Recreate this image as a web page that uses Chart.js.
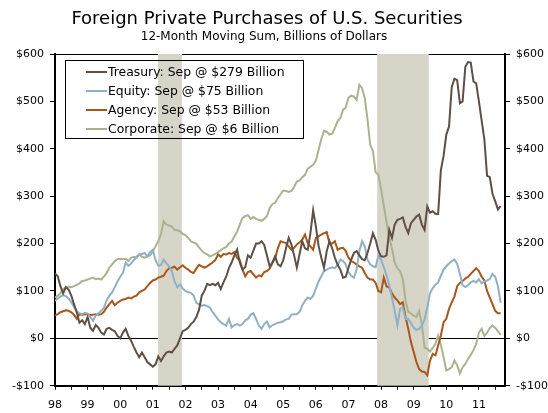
<!DOCTYPE html>
<html>
<head>
<meta charset="utf-8">
<script src="https://cdn.jsdelivr.net/npm/chart.js@4.4.1/dist/chart.umd.min.js"></script>
<style>
  html, body { margin: 0; padding: 0; background: #fff; }
  #wrap { width: 548px; height: 413px; }
</style>
</head>
<body>
<div id="wrap"><canvas id="chart" width="548" height="413"></canvas></div>
<script>
// monthly, Jan 1998 .. Sep 2011
const startYear = 1998;

const treasury = [
  137, 131, 110, 95, 108, 103, 90, 72, 55, 33, 38, 30,
  45, 22, 16, 28, 22, 12, 8, 20, 22, 18, 15, 5,
  0, 12, 20, 5, -5, -18, -30, -40, -30, -40, -50, -55,
  -60, -55, -38, -48, -38, -30, -28, -30, -22, -15, 0, 15,
  18, 22, 30, 35, 45, 60, 90, 100, 115, 112, 115, 112,
  117, 104, 118, 130, 148, 160, 175, 187, 160, 145, 150, 175,
  170, 185, 200, 200, 205, 197, 175, 152, 160, 173, 156, 152,
  165, 190, 212, 198, 175, 149, 178, 205, 190, 187, 222, 270,
  236, 195, 170, 149, 184, 205, 190, 170, 155, 145, 128, 130,
  149, 166, 180, 184, 175, 167, 165, 180, 200, 222, 208, 185,
  173, 172, 175, 229, 212, 240, 250, 252, 255, 235, 222, 243,
  250, 257, 261, 240, 229, 278, 265, 268, 263, 262, 355, 385,
  430, 447, 530, 548, 545, 496, 500, 573, 583, 582, 542, 538,
  500, 460, 420, 343, 340, 305, 289, 272, 279
];

const equity = [
  79, 84, 88, 91, 89, 84, 76, 66, 57, 53, 51, 54,
  52, 45, 37, 48, 53, 58, 64, 80, 90, 97, 108, 120,
  130, 138, 160, 153, 158, 165, 172, 177, 178, 180, 173, 182,
  187, 165, 153, 155, 166, 158, 152, 142, 120, 108, 114, 105,
  100, 97, 96, 90, 75, 72, 69, 70, 68, 65, 55, 48,
  40, 34, 30, 27, 41, 23, 28, 30, 27, 30, 38, 41,
  50, 53, 41, 27, 20, 30, 35, 23, 28, 30, 33, 34,
  36, 40, 41, 50, 51, 51, 56, 70, 79, 86, 83, 90,
  105, 120, 131, 142, 145, 148, 150, 148, 155, 166, 163, 156,
  140, 132, 128, 145, 184, 205, 194, 166, 156, 152, 150, 175,
  166, 150, 133, 112, 86, 58, 27, 62, 65, 41, 41, 32,
  22, 18, 20, 27, 40, 65, 95, 106, 113, 118, 132, 145,
  152, 158, 163, 166, 157, 136, 112, 108, 112, 118, 121, 118,
  125, 116, 120, 122, 125, 136, 130, 110, 75
];

const agency = [
  48, 51, 55, 57, 59, 58, 55, 50, 41, 51, 50, 51,
  51, 49, 50, 51, 50, 51, 56, 65, 72, 79, 70, 75,
  79, 82, 83, 86, 84, 88, 90, 97, 100, 103, 110, 117,
  122, 124, 128, 130, 132, 142, 148, 149, 151, 145, 150, 154,
  149, 145, 140, 138, 147, 155, 152, 149, 152, 156, 160, 165,
  177, 172, 178, 177, 180, 178, 182, 170, 165, 145, 131, 140,
  142, 135, 128, 133, 131, 140, 142, 147, 159, 168, 190, 205,
  203, 201, 194, 187, 191, 198, 202, 208, 219, 201, 194, 187,
  212, 215, 219, 222, 224, 201, 200, 205, 187, 190, 191, 184,
  170, 163, 160, 156, 152, 149, 138, 128, 124, 124, 117, 100,
  97, 128, 110, 107, 95, 86, 80, 72, 76, 45, 20, -8,
  -29, -50, -65, -70, -71, -78, -47, -33, -36, -15, 6, 34,
  41, 62, 76, 88, 110, 117, 121, 126, 130, 136, 142, 148,
  142, 130, 122, 100, 86, 72, 58, 53, 53
];

const corporate = [
  86, 90, 95, 104, 107, 109, 108, 110, 113, 116, 121, 122,
  124, 126, 128, 125, 126, 124, 130, 138, 149, 156, 163, 167,
  168, 167, 168, 163, 170, 172, 170, 177, 172, 170, 173, 175,
  184, 194, 205, 220, 247, 240, 238, 236, 229, 228, 226, 220,
  218, 212, 205, 202, 200, 192, 185, 180, 177, 173, 175, 178,
  182, 186, 190, 193, 200, 204, 215, 225, 240, 254, 258, 260,
  252, 256, 252, 250, 248, 252, 258, 275, 283, 286, 296, 304,
  312, 311, 309, 311, 320, 331, 333, 340, 345, 358, 362, 366,
  375, 398, 420, 438, 436, 430, 432, 444, 458, 465, 482, 487,
  508, 512, 510, 503, 535, 528, 507, 462, 409, 395, 350, 346,
  314, 280, 245, 212, 190, 160, 148, 142, 124, 80, 56, 52,
  48, 45, 58, 30, -20, -22, -28, -20, -12, 6, -14, -40,
  -68, -65, -61, -47, -57, -74, -61, -54, -43, -35, -25, -12,
  12, 20, 5, 12, 22, 27, 22, 15, 7
];

const seriesNames = [
  'Treasury: Sep @ $279 Billion',
  'Equity: Sep @ $75 Billion',
  'Agency: Sep @ $53 Billion',
  'Corporate: Sep @ $6 Billion'
];

const titleText = 'Foreign Private Purchases of U.S. Securities';
const subtitleText = '12-Month Moving Sum, Billions of Dollars';

// recessions (start, end) in fractional years
const recessions = [[2001.16, 2001.89], [2007.88, 2009.46]];

const yTicks = [-100, 0, 100, 200, 300, 400, 500, 600];

const FONT = "'DejaVu Sans', Verdana, sans-serif";
const colors = ['#5e4f47', '#8fb0c8', '#a9561a', '#a9b48f'];

const toPoints = arr => arr.map((v, i) => ({ x: startYear + i / 12, y: v }));

const moneyLabel = v => (v < 0 ? '-$' + Math.abs(v) : '$' + v);

const shading = {
  id: 'shading',
  beforeDatasetsDraw(chart) {
    const { ctx, chartArea: a, scales: { x } } = chart;
    ctx.save();
    ctx.fillStyle = '#d7d4c8';
    recessions.forEach(([s, e]) => {
      const x0 = x.getPixelForValue(s);
      const x1 = x.getPixelForValue(e);
      ctx.fillRect(x0, a.top, x1 - x0, a.bottom - a.top);
    });
    ctx.restore();
  }
};

// titles are centred a little left of the canvas centre, as in the original
const titles = {
  id: 'titles',
  afterDraw(chart) {
    const ctx = chart.ctx;
    ctx.save();
    ctx.fillStyle = '#000';
    ctx.textAlign = 'center';
    ctx.textBaseline = 'middle';
    ctx.font = '18px ' + FONT;
    ctx.fillText(titleText, 267, 19.3);
    ctx.font = '12px ' + FONT;
    ctx.fillText(subtitleText, 264, 37);
    ctx.restore();
  }
};

const boxLegend = {
  id: 'boxLegend',
  afterDraw(chart) {
    const ctx = chart.ctx;
    ctx.save();
    ctx.strokeStyle = '#000';
    ctx.lineWidth = 1;
    ctx.strokeRect(65.5, 60.5, 238, 78);
    ctx.font = '12.4px ' + FONT;
    ctx.textBaseline = 'middle';
    ctx.fillStyle = '#000';
    chart.data.datasets.forEach((ds, i) => {
      const y = 72 + i * 19;
      ctx.strokeStyle = ds.borderColor;
      ctx.lineWidth = 2;
      ctx.beginPath();
      ctx.moveTo(86, y);
      ctx.lineTo(107, y);
      ctx.stroke();
      ctx.fillText(ds.label, 108, y + 0.5);
    });
    ctx.restore();
  }
};

const series = [treasury, equity, agency, corporate];

new Chart(document.getElementById('chart').getContext('2d'), {
  type: 'line',
  data: {
    datasets: series.map((s, i) => ({
      label: seriesNames[i],
      data: toPoints(s),
      borderColor: colors[i],
      borderWidth: 2,
      pointRadius: 0,
      tension: 0,
      yAxisID: 'y'
    }))
  },
  options: {
    responsive: false,
    animation: false,
    layout: { padding: { top: 54, right: 0, bottom: 0, left: 0 } },
    scales: {
      x: {
        type: 'linear',
        min: 1998,
        max: 2011.8,
        grid: { display: true, drawOnChartArea: false, tickLength: 4, color: '#000', tickColor: '#000' },
        border: { color: '#000', width: 2 },
        ticks: {
          stepSize: 0.5,
          autoSkip: false,
          maxRotation: 0,
          includeBounds: false,
          padding: 9,
          color: '#000',
          font: { family: FONT, size: 11 },
          callback: v => (Number.isInteger(v) ? String(v % 100).padStart(2, '0') : '')
        },
        afterFit: s => { s.height = 27.3; }
      },
      y: {
        position: 'left',
        min: -100,
        max: 600,
        afterBuildTicks: s => { s.ticks = yTicks.map(v => ({ value: v })); },
        grid: {
          drawOnChartArea: true,
          tickLength: 5,
          tickColor: '#000',
          color: c => (c.tick && (c.tick.value === 0 || c.tick.value === 600) ? '#000' : 'rgba(0,0,0,0)'),
          lineWidth: 1
        },
        border: { color: '#000', width: 2 },
        ticks: {
          padding: 6,
          color: '#000',
          font: { family: FONT, size: 11 },
          callback: moneyLabel
        },
        afterFit: s => { s.width = 55; }
      },
      y2: {
        position: 'right',
        min: -100,
        max: 600,
        afterBuildTicks: s => { s.ticks = yTicks.map(v => ({ value: v })); },
        grid: { drawOnChartArea: false, tickLength: 5, color: '#000', tickColor: '#000' },
        border: { color: '#000', width: 2 },
        ticks: {
          padding: 6,
          color: '#000',
          font: { family: FONT, size: 11 },
          callback: moneyLabel
        },
        afterFit: s => { s.width = 43; }
      }
    },
    plugins: {
      legend: { display: false },
      tooltip: { enabled: false },
      title: { display: false },
      subtitle: { display: false }
    }
  },
  plugins: [shading, titles, boxLegend]
});
</script>
</body>
</html>
